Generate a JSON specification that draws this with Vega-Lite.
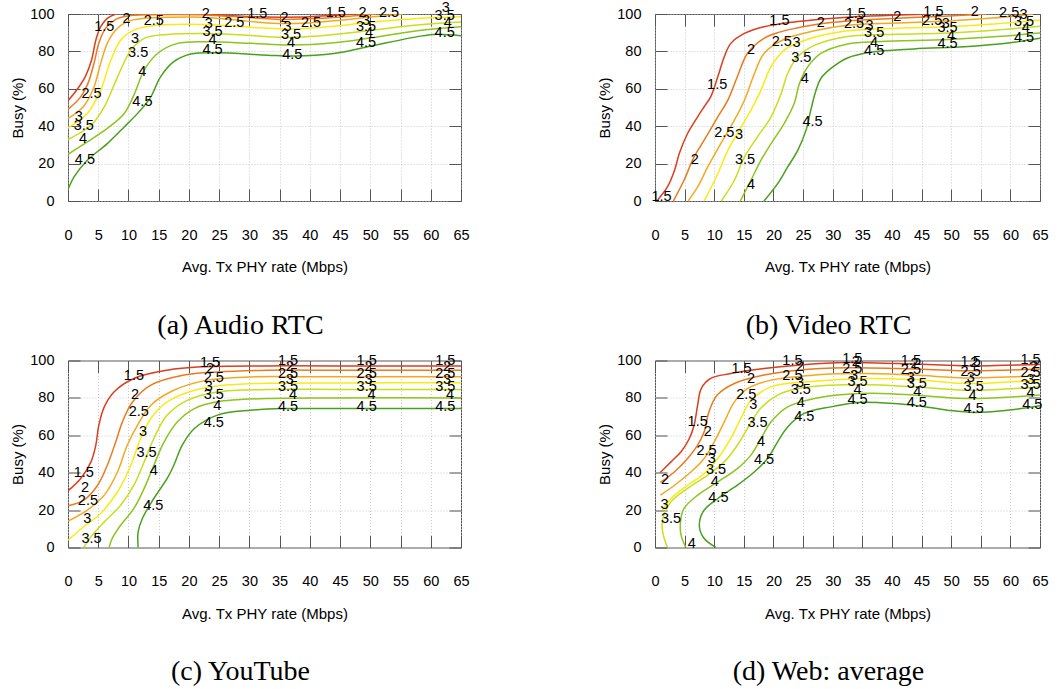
{
"$schema":"https://vega.github.io/schema/vega-lite/v6.json",
"background":"white",
"padding":{"left":10,"top":-1,"right":5,"bottom":2},
"columns":2,
"bounds":"flush",
"spacing":{"row":159.5,"column":194},
"datasets":{
"ca":[
{"s":"15a","l":"1.5","x":0,"y":53.6},{"s":"15a","l":"1.5","x":1.5,"y":59.6},{"s":"15a","l":"1.5","x":2.9,"y":66.8},{"s":"15a","l":"1.5","x":3.9,"y":75.4},{"s":"15a","l":"1.5","x":4.6,"y":86},{"s":"15a","l":"1.5","x":5.4,"y":93.2},{"s":"15a","l":"1.5","x":6.5,"y":97.7},{"s":"15a","l":"1.5","x":7.9,"y":100},
{"s":"15b","l":"1.5","x":22,"y":100},{"s":"15b","l":"1.5","x":26,"y":99.3},{"s":"15b","l":"1.5","x":30,"y":98.6},{"s":"15b","l":"1.5","x":35,"y":98.3},{"s":"15b","l":"1.5","x":40,"y":98.5},{"s":"15b","l":"1.5","x":44,"y":99.3},{"s":"15b","l":"1.5","x":47.5,"y":100},
{"s":"2","l":"2","x":0,"y":49},{"s":"2","l":"2","x":2.1,"y":55.7},{"s":"2","l":"2","x":3.3,"y":62.9},{"s":"2","l":"2","x":4.3,"y":73.6},{"s":"2","l":"2","x":5.1,"y":84.3},{"s":"2","l":"2","x":6.2,"y":92.3},{"s":"2","l":"2","x":7.9,"y":97.1},{"s":"2","l":"2","x":9.8,"y":98.9},{"s":"2","l":"2","x":13.7,"y":99.6},{"s":"2","l":"2","x":22,"y":99.6},{"s":"2","l":"2","x":27.5,"y":98.6},{"s":"2","l":"2","x":35.8,"y":97.1},{"s":"2","l":"2","x":41.3,"y":97.6},{"s":"2","l":"2","x":47,"y":98.9},{"s":"2","l":"2","x":51,"y":100},
{"s":"25","l":"2.5","x":0,"y":44.1},{"s":"25","l":"2.5","x":2.6,"y":50.7},{"s":"25","l":"2.5","x":4.3,"y":61},{"s":"25","l":"2.5","x":5.4,"y":73.6},{"s":"25","l":"2.5","x":6.5,"y":84.3},{"s":"25","l":"2.5","x":7.9,"y":91.4},{"s":"25","l":"2.5","x":9.8,"y":95.9},{"s":"25","l":"2.5","x":12.6,"y":97.7},{"s":"25","l":"2.5","x":16.4,"y":98.2},{"s":"25","l":"2.5","x":22,"y":98.3},{"s":"25","l":"2.5","x":27.5,"y":96.9},{"s":"25","l":"2.5","x":33,"y":95.2},{"s":"25","l":"2.5","x":38.5,"y":95},{"s":"25","l":"2.5","x":44,"y":96.4},{"s":"25","l":"2.5","x":49.6,"y":98.2},{"s":"25","l":"2.5","x":55.4,"y":100},
{"s":"3","l":"3","x":0,"y":39.1},{"s":"3","l":"3","x":3.2,"y":46.8},{"s":"3","l":"3","x":5.4,"y":59.3},{"s":"3","l":"3","x":7.1,"y":75.4},{"s":"3","l":"3","x":8.7,"y":86},{"s":"3","l":"3","x":10.9,"y":91.4},{"s":"3","l":"3","x":13.7,"y":93.6},{"s":"3","l":"3","x":19.2,"y":94.5},{"s":"3","l":"3","x":24.7,"y":94.1},{"s":"3","l":"3","x":30.2,"y":92.9},{"s":"3","l":"3","x":35.8,"y":92},{"s":"3","l":"3","x":41.3,"y":92.7},{"s":"3","l":"3","x":46.8,"y":94.4},{"s":"3","l":"3","x":52.3,"y":96.2},{"s":"3","l":"3","x":57.8,"y":97.6},{"s":"3","l":"3","x":65,"y":98.5},
{"s":"35","l":"3.5","x":0,"y":32.9},{"s":"35","l":"3.5","x":3.8,"y":40.5},{"s":"35","l":"3.5","x":6,"y":50.4},{"s":"35","l":"3.5","x":8.2,"y":66.4},{"s":"35","l":"3.5","x":10.4,"y":80.7},{"s":"35","l":"3.5","x":12.6,"y":87},{"s":"35","l":"3.5","x":16.4,"y":89.1},{"s":"35","l":"3.5","x":22,"y":89.6},{"s":"35","l":"3.5","x":27.5,"y":89.1},{"s":"35","l":"3.5","x":35.8,"y":87.5},{"s":"35","l":"3.5","x":41.3,"y":88.2},{"s":"35","l":"3.5","x":49.6,"y":91.1},{"s":"35","l":"3.5","x":57.8,"y":94.1},{"s":"35","l":"3.5","x":65,"y":95.7},
{"s":"4","l":"4","x":0,"y":25},{"s":"4","l":"4","x":3.2,"y":31.6},{"s":"4","l":"4","x":6.5,"y":38.8},{"s":"4","l":"4","x":9.3,"y":46.8},{"s":"4","l":"4","x":10.9,"y":56.6},{"s":"4","l":"4","x":12.6,"y":70},{"s":"4","l":"4","x":14.8,"y":78.9},{"s":"4","l":"4","x":18.1,"y":84.3},{"s":"4","l":"4","x":23.1,"y":85.2},{"s":"4","l":"4","x":30.2,"y":84.3},{"s":"4","l":"4","x":36.9,"y":83.4},{"s":"4","l":"4","x":44,"y":84.6},{"s":"4","l":"4","x":49.6,"y":87},{"s":"4","l":"4","x":57.8,"y":91.1},{"s":"4","l":"4","x":65,"y":93.2},
{"s":"45","l":"4.5","x":0,"y":6.1},{"s":"45","l":"4.5","x":1,"y":12.9},{"s":"45","l":"4.5","x":3.2,"y":21.8},{"s":"45","l":"4.5","x":6.5,"y":30.7},{"s":"45","l":"4.5","x":9.3,"y":39.6},{"s":"45","l":"4.5","x":12,"y":48.6},{"s":"45","l":"4.5","x":13.7,"y":55.7},{"s":"45","l":"4.5","x":15.3,"y":66.4},{"s":"45","l":"4.5","x":17.5,"y":74.5},{"s":"45","l":"4.5","x":20.3,"y":78.6},{"s":"45","l":"4.5","x":24.7,"y":79.3},{"s":"45","l":"4.5","x":33,"y":78},{"s":"45","l":"4.5","x":37.4,"y":77.5},{"s":"45","l":"4.5","x":44,"y":78.9},{"s":"45","l":"4.5","x":49.6,"y":82.5},{"s":"45","l":"4.5","x":57.8,"y":87.9},{"s":"45","l":"4.5","x":61,"y":89.2},{"s":"45","l":"4.5","x":65,"y":88.4}
],
"la":[
{"x":6,"y":93.2,"t":"1.5"},{"x":9.7,"y":97.1,"t":"2"},{"x":14.2,"y":96.4,"t":"2.5"},{"x":22.8,"y":100,"t":"2"},{"x":31.3,"y":100,"t":"1.5"},{"x":27.5,"y":95.4,"t":"2.5"},{"x":23.3,"y":94.6,"t":"3"},{"x":23.9,"y":90.5,"t":"3.5"},{"x":23.9,"y":86,"t":"4"},{"x":23.9,"y":80.7,"t":"4.5"},{"x":35.8,"y":97.7,"t":"2"},{"x":36.3,"y":93.2,"t":"3"},{"x":36.9,"y":88.8,"t":"3.5"},{"x":36.9,"y":84.6,"t":"4"},{"x":37.1,"y":78,"t":"4.5"},{"x":40.2,"y":95,"t":"2.5"},{"x":44.3,"y":100.7,"t":"1.5"},{"x":48.7,"y":100.7,"t":"2"},{"x":53.1,"y":100.4,"t":"2.5"},{"x":49.3,"y":96.4,"t":"3"},{"x":49.3,"y":93.2,"t":"3.5"},{"x":49.8,"y":89.6,"t":"4"},{"x":49.3,"y":84.3,"t":"4.5"},{"x":62.5,"y":103,"t":"3"},{"x":62.3,"y":98.9,"t":"3.5"},{"x":62.8,"y":95,"t":"4"},{"x":62.3,"y":89.6,"t":"4.5"},{"x":11.1,"y":86.4,"t":"3"},{"x":11.6,"y":79.3,"t":"3.5"},{"x":12.3,"y":69.1,"t":"4"},{"x":12.3,"y":53,"t":"4.5"},{"x":3.9,"y":57,"t":"2.5"},{"x":1.8,"y":45,"t":"3"},{"x":2.6,"y":40,"t":"3.5"},{"x":2.5,"y":32.9,"t":"4"},{"x":2.8,"y":22.1,"t":"4.5"}
],
"cb":[
{"s":"15","l":"1.5","x":0.3,"y":0},{"s":"15","l":"1.5","x":2.1,"y":7.5},{"s":"15","l":"1.5","x":3.3,"y":16.4},{"s":"15","l":"1.5","x":4.1,"y":25.4},{"s":"15","l":"1.5","x":5.5,"y":36.1},{"s":"15","l":"1.5","x":7.2,"y":45},{"s":"15","l":"1.5","x":8.3,"y":50.4},{"s":"15","l":"1.5","x":9.4,"y":55.7},{"s":"15","l":"1.5","x":10.6,"y":66.4},{"s":"15","l":"1.5","x":11.7,"y":77.1},{"s":"15","l":"1.5","x":12.8,"y":84.3},{"s":"15","l":"1.5","x":15.1,"y":89.6},{"s":"15","l":"1.5","x":18.4,"y":93.2},{"s":"15","l":"1.5","x":24.1,"y":96},{"s":"15","l":"1.5","x":32.5,"y":98.3},{"s":"15","l":"1.5","x":40,"y":99.3},{"s":"15","l":"1.5","x":46.5,"y":100},
{"s":"2","l":"2","x":3.1,"y":0},{"s":"2","l":"2","x":4.9,"y":11.1},{"s":"2","l":"2","x":6.6,"y":23.6},{"s":"2","l":"2","x":8.3,"y":32.5},{"s":"2","l":"2","x":10.6,"y":45},{"s":"2","l":"2","x":12.3,"y":53.9},{"s":"2","l":"2","x":13.9,"y":66.4},{"s":"2","l":"2","x":15.6,"y":78.9},{"s":"2","l":"2","x":18.4,"y":87},{"s":"2","l":"2","x":21,"y":90.3},{"s":"2","l":"2","x":24.1,"y":92.6},{"s":"2","l":"2","x":28,"y":94.8},{"s":"2","l":"2","x":32.5,"y":96.3},{"s":"2","l":"2","x":40,"y":97.6},{"s":"2","l":"2","x":48,"y":98.7},{"s":"2","l":"2","x":56,"y":100},
{"s":"25","l":"2.5","x":5.6,"y":0},{"s":"25","l":"2.5","x":7.2,"y":7.5},{"s":"25","l":"2.5","x":8.9,"y":18.2},{"s":"25","l":"2.5","x":11.1,"y":30.7},{"s":"25","l":"2.5","x":13.4,"y":43.2},{"s":"25","l":"2.5","x":15.1,"y":53.9},{"s":"25","l":"2.5","x":16.8,"y":68.2},{"s":"25","l":"2.5","x":18.4,"y":78.9},{"s":"25","l":"2.5","x":21.8,"y":86.5},{"s":"25","l":"2.5","x":26.9,"y":91},{"s":"25","l":"2.5","x":32.5,"y":94},{"s":"25","l":"2.5","x":40.9,"y":95.2},{"s":"25","l":"2.5","x":49.4,"y":96.2},{"s":"25","l":"2.5","x":57,"y":97.8},{"s":"25","l":"2.5","x":63.8,"y":100},
{"s":"3","l":"3","x":8.3,"y":0},{"s":"3","l":"3","x":10.6,"y":14.6},{"s":"3","l":"3","x":12.3,"y":27.1},{"s":"3","l":"3","x":13.9,"y":36.1},{"s":"3","l":"3","x":16.2,"y":48.6},{"s":"3","l":"3","x":17.9,"y":59.3},{"s":"3","l":"3","x":19.6,"y":71.8},{"s":"3","l":"3","x":21.8,"y":80.7},{"s":"3","l":"3","x":25.8,"y":86.5},{"s":"3","l":"3","x":32.5,"y":91},{"s":"3","l":"3","x":40.9,"y":92.4},{"s":"3","l":"3","x":49.4,"y":93.2},{"s":"3","l":"3","x":57.8,"y":94.8},{"s":"3","l":"3","x":65,"y":96.8},
{"s":"35","l":"3.5","x":11.2,"y":0},{"s":"35","l":"3.5","x":13.4,"y":11.1},{"s":"35","l":"3.5","x":15.1,"y":23.6},{"s":"35","l":"3.5","x":17.3,"y":34.3},{"s":"35","l":"3.5","x":19.6,"y":45},{"s":"35","l":"3.5","x":21.3,"y":57.5},{"s":"35","l":"3.5","x":22.4,"y":68.2},{"s":"35","l":"3.5","x":24.1,"y":77.1},{"s":"35","l":"3.5","x":26.9,"y":83.2},{"s":"35","l":"3.5","x":32.5,"y":88},{"s":"35","l":"3.5","x":40.9,"y":89.2},{"s":"35","l":"3.5","x":49.4,"y":89.9},{"s":"35","l":"3.5","x":57.8,"y":91.5},{"s":"35","l":"3.5","x":65,"y":93.5},
{"s":"4","l":"4","x":14.4,"y":0},{"s":"4","l":"4","x":16.2,"y":11.1},{"s":"4","l":"4","x":17.9,"y":21.8},{"s":"4","l":"4","x":19.6,"y":30.7},{"s":"4","l":"4","x":21.8,"y":41.4},{"s":"4","l":"4","x":23.5,"y":52.1},{"s":"4","l":"4","x":24.4,"y":62.9},{"s":"4","l":"4","x":25.8,"y":71.8},{"s":"4","l":"4","x":28,"y":78.9},{"s":"4","l":"4","x":32.5,"y":84},{"s":"4","l":"4","x":38.1,"y":85.3},{"s":"4","l":"4","x":49.4,"y":86.4},{"s":"4","l":"4","x":57.8,"y":88},{"s":"4","l":"4","x":65,"y":89.8},
{"s":"45","l":"4.5","x":18.4,"y":0},{"s":"45","l":"4.5","x":20.7,"y":9.3},{"s":"45","l":"4.5","x":22.4,"y":18.2},{"s":"45","l":"4.5","x":24.1,"y":27.1},{"s":"45","l":"4.5","x":25.5,"y":37.9},{"s":"45","l":"4.5","x":26.3,"y":48.6},{"s":"45","l":"4.5","x":27.2,"y":59.3},{"s":"45","l":"4.5","x":28,"y":65.5},{"s":"45","l":"4.5","x":29.7,"y":70.9},{"s":"45","l":"4.5","x":32.5,"y":76.5},{"s":"45","l":"4.5","x":36.4,"y":79.5},{"s":"45","l":"4.5","x":43.7,"y":81.3},{"s":"45","l":"4.5","x":52.2,"y":82.5},{"s":"45","l":"4.5","x":58.9,"y":84.2},{"s":"45","l":"4.5","x":65,"y":87}
],
"lb":[
{"x":1.1,"y":2.1,"t":"1.5"},{"x":6.7,"y":22.1,"t":"2"},{"x":11.7,"y":36.1,"t":"2.5"},{"x":14.2,"y":35.2,"t":"3"},{"x":15.2,"y":22.1,"t":"3.5"},{"x":16.2,"y":8.4,"t":"4"},{"x":10.5,"y":62,"t":"1.5"},{"x":16.2,"y":80.7,"t":"2"},{"x":21.4,"y":85.2,"t":"2.5"},{"x":23.9,"y":84.3,"t":"3"},{"x":24.7,"y":76.3,"t":"3.5"},{"x":25.3,"y":65.5,"t":"4"},{"x":26.6,"y":42,"t":"4.5"},{"x":21,"y":96.4,"t":"1.5"},{"x":28,"y":95.4,"t":"2"},{"x":33.9,"y":100,"t":"1.5"},{"x":33.6,"y":94.6,"t":"2.5"},{"x":36.2,"y":93.6,"t":"3"},{"x":37,"y":89.6,"t":"3.5"},{"x":37,"y":84.6,"t":"4"},{"x":37,"y":80.4,"t":"4.5"},{"x":40.9,"y":98.2,"t":"2"},{"x":47,"y":101.2,"t":"1.5"},{"x":46.8,"y":96.4,"t":"2.5"},{"x":49.1,"y":94.6,"t":"3"},{"x":49.4,"y":92.3,"t":"3.5"},{"x":50,"y":88.2,"t":"4"},{"x":49.4,"y":83.9,"t":"4.5"},{"x":54,"y":101.2,"t":"2"},{"x":59.8,"y":100.4,"t":"2.5"},{"x":62.2,"y":99.5,"t":"3"},{"x":62.3,"y":95.5,"t":"3.5"},{"x":62.6,"y":92.3,"t":"4"},{"x":62.3,"y":87,"t":"4.5"}
],
"cc":[
{"s":"15","l":"1.5","x":0,"y":30.3},{"s":"15","l":"1.5","x":2.1,"y":36.9},{"s":"15","l":"1.5","x":3.8,"y":45.8},{"s":"15","l":"1.5","x":4.6,"y":54.7},{"s":"15","l":"1.5","x":5.1,"y":65.4},{"s":"15","l":"1.5","x":6,"y":75.2},{"s":"15","l":"1.5","x":7.6,"y":83.2},{"s":"15","l":"1.5","x":10.9,"y":90.4},{"s":"15","l":"1.5","x":16.4,"y":94.8},{"s":"15","l":"1.5","x":22,"y":96.6},{"s":"15","l":"1.5","x":33,"y":97.1},{"s":"15","l":"1.5","x":45,"y":97.1},{"s":"15","l":"1.5","x":65,"y":97.1},
{"s":"2","l":"2","x":0,"y":22.3},{"s":"2","l":"2","x":2.6,"y":25.3},{"s":"2","l":"2","x":4.9,"y":33.3},{"s":"2","l":"2","x":6.5,"y":44},{"s":"2","l":"2","x":7.9,"y":56.5},{"s":"2","l":"2","x":9,"y":67.2},{"s":"2","l":"2","x":10.7,"y":77.9},{"s":"2","l":"2","x":13.7,"y":86.8},{"s":"2","l":"2","x":19.2,"y":92.2},{"s":"2","l":"2","x":24.7,"y":93.9},{"s":"2","l":"2","x":33,"y":94.8},{"s":"2","l":"2","x":45,"y":94.8},{"s":"2","l":"2","x":65,"y":94.8},
{"s":"25","l":"2.5","x":0,"y":14.1},{"s":"25","l":"2.5","x":3.2,"y":20},{"s":"25","l":"2.5","x":6,"y":28},{"s":"25","l":"2.5","x":8.2,"y":40.5},{"s":"25","l":"2.5","x":9.8,"y":54.7},{"s":"25","l":"2.5","x":11.5,"y":65.4},{"s":"25","l":"2.5","x":13.7,"y":76.1},{"s":"25","l":"2.5","x":17.5,"y":84.1},{"s":"25","l":"2.5","x":23.1,"y":89.5},{"s":"25","l":"2.5","x":30.2,"y":91.2},{"s":"25","l":"2.5","x":40,"y":91.3},{"s":"25","l":"2.5","x":65,"y":91.3},
{"s":"3","l":"3","x":0,"y":3.9},{"s":"3","l":"3","x":2.6,"y":11.1},{"s":"3","l":"3","x":5.4,"y":18.2},{"s":"3","l":"3","x":8.2,"y":29.8},{"s":"3","l":"3","x":10.4,"y":44},{"s":"3","l":"3","x":12,"y":58.3},{"s":"3","l":"3","x":13.7,"y":69},{"s":"3","l":"3","x":16.4,"y":77.9},{"s":"3","l":"3","x":22,"y":85},{"s":"3","l":"3","x":27.5,"y":87.2},{"s":"3","l":"3","x":33,"y":87.8},{"s":"3","l":"3","x":45,"y":88},{"s":"3","l":"3","x":65,"y":88.1},
{"s":"35","l":"3.5","x":2.6,"y":0},{"s":"35","l":"3.5","x":3.8,"y":5.7},{"s":"35","l":"3.5","x":6,"y":13.7},{"s":"35","l":"3.5","x":8.7,"y":22.6},{"s":"35","l":"3.5","x":10.9,"y":33.3},{"s":"35","l":"3.5","x":12.6,"y":45.8},{"s":"35","l":"3.5","x":14.2,"y":58.3},{"s":"35","l":"3.5","x":16.4,"y":70.8},{"s":"35","l":"3.5","x":19.8,"y":78.8},{"s":"35","l":"3.5","x":24.7,"y":83.2},{"s":"35","l":"3.5","x":33,"y":84.5},{"s":"35","l":"3.5","x":45,"y":84.5},{"s":"35","l":"3.5","x":65,"y":84.5},
{"s":"4","l":"4","x":6.8,"y":0},{"s":"4","l":"4","x":7.3,"y":4.8},{"s":"4","l":"4","x":8.7,"y":11.9},{"s":"4","l":"4","x":10.9,"y":20.9},{"s":"4","l":"4","x":12.6,"y":31.6},{"s":"4","l":"4","x":14.2,"y":44},{"s":"4","l":"4","x":15.9,"y":56.5},{"s":"4","l":"4","x":18.1,"y":67.2},{"s":"4","l":"4","x":20.9,"y":74.3},{"s":"4","l":"4","x":24.7,"y":77.9},{"s":"4","l":"4","x":33,"y":79.7},{"s":"4","l":"4","x":45,"y":80},{"s":"4","l":"4","x":65,"y":80},
{"s":"45","l":"4.5","x":11.6,"y":0},{"s":"45","l":"4.5","x":11.6,"y":8.4},{"s":"45","l":"4.5","x":12.3,"y":15.5},{"s":"45","l":"4.5","x":14.2,"y":26.2},{"s":"45","l":"4.5","x":16.4,"y":36.9},{"s":"45","l":"4.5","x":17.5,"y":44},{"s":"45","l":"4.5","x":18.9,"y":54.7},{"s":"45","l":"4.5","x":20.9,"y":63.6},{"s":"45","l":"4.5","x":24.7,"y":70.8},{"s":"45","l":"4.5","x":30.2,"y":73.4},{"s":"45","l":"4.5","x":35.8,"y":74.3},{"s":"45","l":"4.5","x":45,"y":74.3},{"s":"45","l":"4.5","x":65,"y":74.3}
],
"lc":[
{"x":2.6,"y":40.1,"t":"1.5"},{"x":2.8,"y":31.9,"t":"2"},{"x":3.3,"y":24.8,"t":"2.5"},{"x":3.2,"y":15.2,"t":"3"},{"x":3.9,"y":4.5,"t":"3.5"},{"x":10.9,"y":91.8,"t":"1.5"},{"x":11.1,"y":81.8,"t":"2"},{"x":11.7,"y":72.5,"t":"2.5"},{"x":12.4,"y":61.5,"t":"3"},{"x":13,"y":50.3,"t":"3.5"},{"x":14.2,"y":40.8,"t":"4"},{"x":14.1,"y":22.1,"t":"4.5"},{"x":23.5,"y":98.9,"t":"1.5"},{"x":23.5,"y":95.4,"t":"2"},{"x":24.1,"y":90.7,"t":"2.5"},{"x":23.3,"y":85.9,"t":"3"},{"x":24.1,"y":81.5,"t":"3.5"},{"x":24.7,"y":75.6,"t":"4"},{"x":24.1,"y":66.8,"t":"4.5"},
{"x":36.4,"y":99.6,"t":"1.5"},{"x":36.7,"y":96.6,"t":"2"},{"x":36.4,"y":93,"t":"2.5"},{"x":36.7,"y":89.8,"t":"3"},{"x":36.4,"y":85.9,"t":"3.5"},{"x":37.2,"y":81.8,"t":"4"},{"x":36.4,"y":75.2,"t":"4.5"},
{"x":49.4,"y":99.6,"t":"1.5"},{"x":49.7,"y":96.6,"t":"2"},{"x":49.4,"y":93,"t":"2.5"},{"x":49.7,"y":89.8,"t":"3"},{"x":49.4,"y":85.9,"t":"3.5"},{"x":50.2,"y":81.8,"t":"4"},{"x":49.4,"y":75.2,"t":"4.5"},
{"x":62.4,"y":99.6,"t":"1.5"},{"x":62.7,"y":96.6,"t":"2"},{"x":62.4,"y":93,"t":"2.5"},{"x":62.7,"y":89.8,"t":"3"},{"x":62.4,"y":85.9,"t":"3.5"},{"x":63.2,"y":81.8,"t":"4"},{"x":62.4,"y":75.2,"t":"4.5"}
],
"cd":[
{"s":"15","l":"1.5","x":0.9,"y":40.1},{"s":"15","l":"1.5","x":2.7,"y":45.8},{"s":"15","l":"1.5","x":4.4,"y":51.2},{"s":"15","l":"1.5","x":5.8,"y":58.3},{"s":"15","l":"1.5","x":6.6,"y":65.4},{"s":"15","l":"1.5","x":7.2,"y":76.1},{"s":"15","l":"1.5","x":7.8,"y":85},{"s":"15","l":"1.5","x":9.4,"y":90.4},{"s":"15","l":"1.5","x":12.8,"y":93},{"s":"15","l":"1.5","x":18.4,"y":95.7},{"s":"15","l":"1.5","x":24.1,"y":97.5},{"s":"15","l":"1.5","x":32.5,"y":98.9},{"s":"15","l":"1.5","x":40.9,"y":98.4},{"s":"15","l":"1.5","x":49.4,"y":97.5},{"s":"15","l":"1.5","x":53.9,"y":97.1},{"s":"15","l":"1.5","x":59,"y":97.4},{"s":"15","l":"1.5","x":65,"y":97.9},
{"s":"2","l":"2","x":0.9,"y":34.8},{"s":"2","l":"2","x":3.3,"y":40.5},{"s":"2","l":"2","x":5.5,"y":47.6},{"s":"2","l":"2","x":7.2,"y":54.7},{"s":"2","l":"2","x":8.3,"y":61.9},{"s":"2","l":"2","x":9.1,"y":72.5},{"s":"2","l":"2","x":10.5,"y":81.5},{"s":"2","l":"2","x":13.4,"y":87.7},{"s":"2","l":"2","x":18.4,"y":92.2},{"s":"2","l":"2","x":24.1,"y":94.8},{"s":"2","l":"2","x":32.5,"y":96.1},{"s":"2","l":"2","x":40.9,"y":95.7},{"s":"2","l":"2","x":49.4,"y":94.8},{"s":"2","l":"2","x":53.9,"y":94.5},{"s":"2","l":"2","x":59,"y":94.8},{"s":"2","l":"2","x":65,"y":95.4},
{"s":"25","l":"2.5","x":0.9,"y":28},{"s":"25","l":"2.5","x":3.3,"y":33.3},{"s":"25","l":"2.5","x":6.1,"y":40.5},{"s":"25","l":"2.5","x":8.3,"y":47.6},{"s":"25","l":"2.5","x":10,"y":56.5},{"s":"25","l":"2.5","x":11.7,"y":67.2},{"s":"25","l":"2.5","x":13.4,"y":77.9},{"s":"25","l":"2.5","x":15.6,"y":85},{"s":"25","l":"2.5","x":19.6,"y":89.5},{"s":"25","l":"2.5","x":26.9,"y":92.2},{"s":"25","l":"2.5","x":35.3,"y":93},{"s":"25","l":"2.5","x":43.7,"y":92.2},{"s":"25","l":"2.5","x":52.2,"y":90.7},{"s":"25","l":"2.5","x":58,"y":91},{"s":"25","l":"2.5","x":65,"y":91.8},
{"s":"3","l":"3","x":1.3,"y":20},{"s":"3","l":"3","x":2.7,"y":26.2},{"s":"3","l":"3","x":5.5,"y":33.3},{"s":"3","l":"3","x":8.3,"y":39.6},{"s":"3","l":"3","x":10.6,"y":47.6},{"s":"3","l":"3","x":12.8,"y":58.3},{"s":"3","l":"3","x":14.5,"y":69},{"s":"3","l":"3","x":16.2,"y":78.8},{"s":"3","l":"3","x":19.6,"y":85.9},{"s":"3","l":"3","x":26.9,"y":88.9},{"s":"3","l":"3","x":35.3,"y":90.4},{"s":"3","l":"3","x":43.7,"y":89.8},{"s":"3","l":"3","x":52.2,"y":87.7},{"s":"3","l":"3","x":58,"y":88.2},{"s":"3","l":"3","x":65,"y":89.5},
{"s":"35","l":"3.5","x":2.1,"y":0},{"s":"35","l":"3.5","x":1.3,"y":8.4},{"s":"35","l":"3.5","x":1.3,"y":15.5},{"s":"35","l":"3.5","x":2.7,"y":24.4},{"s":"35","l":"3.5","x":5.5,"y":31.6},{"s":"35","l":"3.5","x":8.9,"y":38.7},{"s":"35","l":"3.5","x":11.7,"y":45.8},{"s":"35","l":"3.5","x":13.9,"y":54.7},{"s":"35","l":"3.5","x":15.6,"y":63.6},{"s":"35","l":"3.5","x":17.8,"y":74.3},{"s":"35","l":"3.5","x":20.7,"y":81.5},{"s":"35","l":"3.5","x":24.1,"y":85},{"s":"35","l":"3.5","x":29.7,"y":86.8},{"s":"35","l":"3.5","x":35.3,"y":87.2},{"s":"35","l":"3.5","x":43.7,"y":85.9},{"s":"35","l":"3.5","x":52.2,"y":84.1},{"s":"35","l":"3.5","x":57.8,"y":84.5},{"s":"35","l":"3.5","x":65,"y":85.9},
{"s":"4","l":"4","x":5.2,"y":0},{"s":"4","l":"4","x":4.4,"y":6.6},{"s":"4","l":"4","x":4.3,"y":13.7},{"s":"4","l":"4","x":4.9,"y":20.9},{"s":"4","l":"4","x":7.2,"y":28},{"s":"4","l":"4","x":10.6,"y":35.1},{"s":"4","l":"4","x":13.9,"y":42.2},{"s":"4","l":"4","x":16.2,"y":49.4},{"s":"4","l":"4","x":17.9,"y":58.3},{"s":"4","l":"4","x":19.6,"y":67.2},{"s":"4","l":"4","x":22.4,"y":75.2},{"s":"4","l":"4","x":26.9,"y":79.7},{"s":"4","l":"4","x":32.5,"y":82},{"s":"4","l":"4","x":38.1,"y":82.4},{"s":"4","l":"4","x":43.7,"y":81.5},{"s":"4","l":"4","x":52.2,"y":79.7},{"s":"4","l":"4","x":57.8,"y":80.1},{"s":"4","l":"4","x":65,"y":81.5},
{"s":"45","l":"4.5","x":10.3,"y":0},{"s":"45","l":"4.5","x":8.3,"y":4.8},{"s":"45","l":"4.5","x":7.5,"y":11.1},{"s":"45","l":"4.5","x":8.1,"y":19.1},{"s":"45","l":"4.5","x":10.6,"y":26.2},{"s":"45","l":"4.5","x":13.9,"y":33.3},{"s":"45","l":"4.5","x":16.8,"y":40.5},{"s":"45","l":"4.5","x":19,"y":47.6},{"s":"45","l":"4.5","x":20.7,"y":56.5},{"s":"45","l":"4.5","x":22.4,"y":64.5},{"s":"45","l":"4.5","x":25.2,"y":71.7},{"s":"45","l":"4.5","x":29.7,"y":75.2},{"s":"45","l":"4.5","x":34.2,"y":77.5},{"s":"45","l":"4.5","x":38.1,"y":77.4},{"s":"45","l":"4.5","x":43.7,"y":76.1},{"s":"45","l":"4.5","x":49.4,"y":73.4},{"s":"45","l":"4.5","x":53.9,"y":72.2},{"s":"45","l":"4.5","x":59.5,"y":73.4},{"s":"45","l":"4.5","x":65,"y":75.8}
],
"ld":[
{"x":1.7,"y":36,"t":"2"},{"x":1.6,"y":22.6,"t":"3"},{"x":2.7,"y":15.5,"t":"3.5"},{"x":6.2,"y":1.8,"t":"4"},{"x":7.2,"y":67.2,"t":"1.5"},{"x":8.9,"y":61.9,"t":"2"},{"x":8.7,"y":51.5,"t":"2.5"},{"x":9.6,"y":47.1,"t":"3"},{"x":10.3,"y":41.4,"t":"3.5"},{"x":10.1,"y":34.8,"t":"4"},{"x":10.7,"y":26.7,"t":"4.5"},{"x":14.6,"y":95.7,"t":"1.5"},{"x":16.2,"y":90,"t":"2"},{"x":15.4,"y":81.8,"t":"2.5"},{"x":16.6,"y":76.1,"t":"3"},{"x":17.3,"y":66.8,"t":"3.5"},{"x":17.9,"y":56.5,"t":"4"},{"x":18.4,"y":46.7,"t":"4.5"},{"x":23.2,"y":100,"t":"1.5"},{"x":24.5,"y":96.6,"t":"2"},{"x":23.2,"y":91.8,"t":"2.5"},{"x":24.5,"y":88.2,"t":"3"},{"x":24.6,"y":84.1,"t":"3.5"},{"x":24.6,"y":77.5,"t":"4"},{"x":25.2,"y":69.9,"t":"4.5"},{"x":33.3,"y":100.7,"t":"1.5"},{"x":33.9,"y":99.3,"t":"2"},{"x":33.3,"y":95.4,"t":"2.5"},{"x":33.6,"y":91.8,"t":"3"},{"x":34.2,"y":88.6,"t":"3.5"},{"x":34.2,"y":84.1,"t":"4"},{"x":34.2,"y":78.8,"t":"4.5"},{"x":43.2,"y":100,"t":"1.5"},{"x":43.8,"y":98,"t":"2"},{"x":43.2,"y":94.7,"t":"2.5"},{"x":43.2,"y":90.4,"t":"3"},{"x":44.2,"y":87.7,"t":"3.5"},{"x":44.3,"y":83.2,"t":"4"},{"x":44.2,"y":77.5,"t":"4.5"},{"x":53.3,"y":99.3,"t":"1.5"},{"x":53.9,"y":98.4,"t":"2"},{"x":53.3,"y":93.6,"t":"2.5"},{"x":53.3,"y":90.4,"t":"3"},{"x":53.8,"y":85.9,"t":"3.5"},{"x":53.6,"y":81.1,"t":"4"},{"x":53.8,"y":74.3,"t":"4.5"},{"x":63.4,"y":100.2,"t":"1.5"},{"x":64,"y":96.6,"t":"2"},{"x":63.4,"y":93.4,"t":"2.5"},{"x":63.4,"y":89.8,"t":"3"},{"x":63.4,"y":86.8,"t":"3.5"},{"x":63.4,"y":82.4,"t":"4"},{"x":63.7,"y":76.1,"t":"4.5"}
]
},
"concat":[
{"width":393,"height":187,"title":{"text":"(a) Audio RTC","dx":-24},
"layer":[
{"data":{"name":"ca"},"mark":{"type":"line","interpolate":"catmull-rom","strokeWidth":1.5,"clip":true},
"encoding":{"x":{"field":"x","type":"quantitative","scale":{"domain":[0,65],"nice":false,"zero":false},"axis":{"values":[0,5,10,15,20,25,30,35,40,45,50,55,60,65],"title":"Avg. Tx PHY rate (Mbps)"}},
"y":{"field":"y","type":"quantitative","scale":{"domain":[0,100],"nice":false},"axis":{"values":[0,20,40,60,80,100],"title":"Busy (%)"}},
"color":{"field":"l","type":"nominal","scale":{"domain":["1.5","2","2.5","3","3.5","4","4.5"],"range":["#dd3d1c","#ec7a1c","#f5a81c","#fbea12","#c8df1a","#8cc51c","#48a01c"]},"legend":null},
"detail":{"field":"s"},"order":{"value":null}}},
{"data":{"name":"la"},"mark":{"type":"text","font":"Liberation Sans","fontSize":14.5,"color":"#000"},
"encoding":{"x":{"field":"x","type":"quantitative","axis":null},"y":{"field":"y","type":"quantitative","axis":null},"text":{"field":"t"}}},
{"data":{"name":"ca"},"mark":{"type":"point","opacity":0},
"encoding":{"x":{"field":"x","type":"quantitative","axis":{"orient":"top","values":[0,5,10,15,20,25,30,35,40,45,50,55,60,65],"labels":false,"grid":false,"title":null}},
"y":{"field":"y","type":"quantitative","axis":{"orient":"right","values":[0,20,40,60,80,100],"labels":false,"grid":false,"title":null}}}}
],
"resolve":{"axis":{"x":"independent","y":"independent"}}},
{"width":385,"height":187,"title":{"text":"(b) Video RTC","dx":-19},
"layer":[
{"data":{"name":"cb"},"mark":{"type":"line","interpolate":"catmull-rom","strokeWidth":1.5,"clip":true},
"encoding":{"x":{"field":"x","type":"quantitative","scale":{"domain":[0,65],"nice":false,"zero":false},"axis":{"values":[0,5,10,15,20,25,30,35,40,45,50,55,60,65],"title":"Avg. Tx PHY rate (Mbps)"}},
"y":{"field":"y","type":"quantitative","scale":{"domain":[0,100],"nice":false},"axis":{"values":[0,20,40,60,80,100],"title":"Busy (%)"}},
"color":{"field":"l","type":"nominal","scale":{"domain":["1.5","2","2.5","3","3.5","4","4.5"],"range":["#dd3d1c","#ec7a1c","#f5a81c","#fbea12","#c8df1a","#8cc51c","#48a01c"]},"legend":null},
"detail":{"field":"s"},"order":{"value":null}}},
{"data":{"name":"lb"},"mark":{"type":"text","font":"Liberation Sans","fontSize":14.5,"color":"#000"},
"encoding":{"x":{"field":"x","type":"quantitative","axis":null},"y":{"field":"y","type":"quantitative","axis":null},"text":{"field":"t"}}},
{"data":{"name":"cb"},"mark":{"type":"point","opacity":0},
"encoding":{"x":{"field":"x","type":"quantitative","axis":{"orient":"top","values":[0,5,10,15,20,25,30,35,40,45,50,55,60,65],"labels":false,"grid":false,"title":null}},
"y":{"field":"y","type":"quantitative","axis":{"orient":"right","values":[0,20,40,60,80,100],"labels":false,"grid":false,"title":null}}}}
],
"resolve":{"axis":{"x":"independent","y":"independent"}}},
{"width":393,"height":187,"title":{"text":"(c) YouTube","dx":-24},
"layer":[
{"data":{"name":"cc"},"mark":{"type":"line","interpolate":"catmull-rom","strokeWidth":1.5,"clip":true},
"encoding":{"x":{"field":"x","type":"quantitative","scale":{"domain":[0,65],"nice":false,"zero":false},"axis":{"values":[0,5,10,15,20,25,30,35,40,45,50,55,60,65],"title":"Avg. Tx PHY rate (Mbps)"}},
"y":{"field":"y","type":"quantitative","scale":{"domain":[0,100],"nice":false},"axis":{"values":[0,20,40,60,80,100],"title":"Busy (%)"}},
"color":{"field":"l","type":"nominal","scale":{"domain":["1.5","2","2.5","3","3.5","4","4.5"],"range":["#dd3d1c","#ec7a1c","#f5a81c","#fbea12","#c8df1a","#8cc51c","#48a01c"]},"legend":null},
"detail":{"field":"s"},"order":{"value":null}}},
{"data":{"name":"lc"},"mark":{"type":"text","font":"Liberation Sans","fontSize":14.5,"color":"#000"},
"encoding":{"x":{"field":"x","type":"quantitative","axis":null},"y":{"field":"y","type":"quantitative","axis":null},"text":{"field":"t"}}},
{"data":{"name":"cc"},"mark":{"type":"point","opacity":0},
"encoding":{"x":{"field":"x","type":"quantitative","axis":{"orient":"top","values":[0,5,10,15,20,25,30,35,40,45,50,55,60,65],"labels":false,"grid":false,"title":null}},
"y":{"field":"y","type":"quantitative","axis":{"orient":"right","values":[0,20,40,60,80,100],"labels":false,"grid":false,"title":null}}}}
],
"resolve":{"axis":{"x":"independent","y":"independent"}}},
{"width":385,"height":187,"title":{"text":"(d) Web: average","dx":-19},
"layer":[
{"data":{"name":"cd"},"mark":{"type":"line","interpolate":"catmull-rom","strokeWidth":1.5,"clip":true},
"encoding":{"x":{"field":"x","type":"quantitative","scale":{"domain":[0,65],"nice":false,"zero":false},"axis":{"values":[0,5,10,15,20,25,30,35,40,45,50,55,60,65],"title":"Avg. Tx PHY rate (Mbps)"}},
"y":{"field":"y","type":"quantitative","scale":{"domain":[0,100],"nice":false},"axis":{"values":[0,20,40,60,80,100],"title":"Busy (%)"}},
"color":{"field":"l","type":"nominal","scale":{"domain":["1.5","2","2.5","3","3.5","4","4.5"],"range":["#dd3d1c","#ec7a1c","#f5a81c","#fbea12","#c8df1a","#8cc51c","#48a01c"]},"legend":null},
"detail":{"field":"s"},"order":{"value":null}}},
{"data":{"name":"ld"},"mark":{"type":"text","font":"Liberation Sans","fontSize":14.5,"color":"#000"},
"encoding":{"x":{"field":"x","type":"quantitative","axis":null},"y":{"field":"y","type":"quantitative","axis":null},"text":{"field":"t"}}},
{"data":{"name":"cd"},"mark":{"type":"point","opacity":0},
"encoding":{"x":{"field":"x","type":"quantitative","axis":{"orient":"top","values":[0,5,10,15,20,25,30,35,40,45,50,55,60,65],"labels":false,"grid":false,"title":null}},
"y":{"field":"y","type":"quantitative","axis":{"orient":"right","values":[0,20,40,60,80,100],"labels":false,"grid":false,"title":null}}}}
],
"resolve":{"axis":{"x":"independent","y":"independent"}}}
],
"config":{
"view":{"stroke":"#555","strokeWidth":1},
"axis":{"labelFont":"Liberation Sans","labelFontSize":14.5,"labelColor":"#000","titleFont":"Liberation Sans","titleFontSize":15,"titleFontWeight":"normal","titleColor":"#000","domain":false,"tickColor":"#555","tickSize":-12,"tickWidth":1,"gridColor":"#bbb","gridDash":[1,2],"gridWidth":0.8,"labelFlush":false,"labelOverlap":false},
"axisX":{"labelPadding":39,"titlePadding":18},
"axisY":{"labelPadding":26,"titlePadding":4},
"title":{"orient":"bottom","font":"Liberation Serif","fontSize":28,"fontWeight":"normal","color":"#000","offset":37,"anchor":"middle"}
}
}
